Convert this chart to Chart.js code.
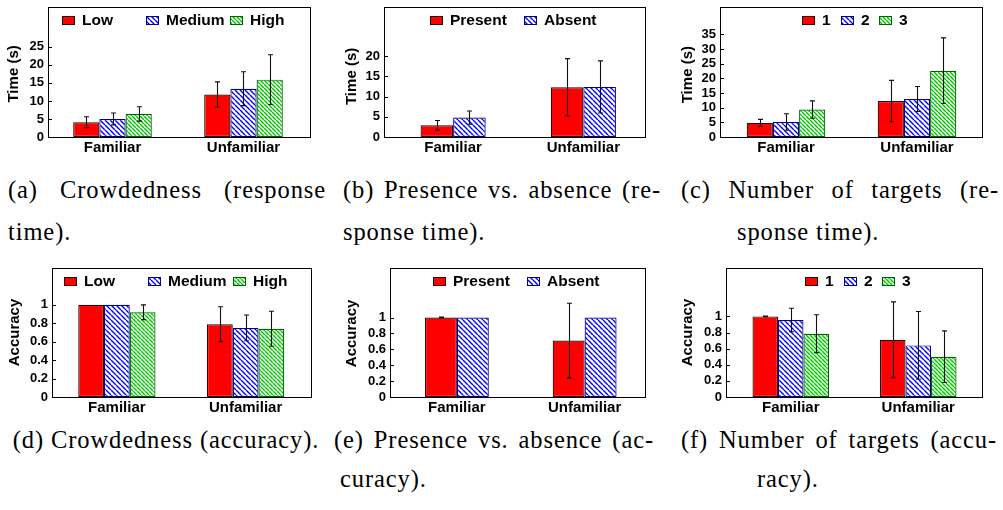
<!DOCTYPE html>
<html>
<head>
<meta charset="utf-8">
<script src="https://cdn.jsdelivr.net/npm/chart.js@4.4.0/dist/chart.umd.min.js"></script>
<style>
  body { margin: 0; background: #fff; }
  #page { position: relative; width: 1003px; height: 510px; overflow: hidden; }
  canvas { position: absolute; }
  .cap { position: absolute; font-family: "Liberation Serif", "Times New Roman", serif; font-size: 24.5px; line-height: 24px; letter-spacing: 0.9px; color: #000; }
  .just { text-align: justify; text-align-last: justify; }
  .one { white-space: nowrap; }
</style>
</head>
<body>
<div id="page">
  <div class="cap just" style="left:8px;top:178px;width:318px">(a) Crowdedness (response</div>
  <div class="cap one" style="left:8px;top:220px">time).</div>
  <div class="cap just" style="left:343px;top:178px;width:318px">(b) Presence vs. absence (re-</div>
  <div class="cap one" style="left:343px;top:220px">sponse time).</div>
  <div class="cap just" style="left:681px;top:178px;width:318px">(c) Number of targets (re-</div>
  <div class="cap one" style="left:737px;top:220px">sponse time).</div>
  <div class="cap one" style="left:10px;top:428px;width:312px;text-align:center">(d) Crowdedness (accuracy).</div>
  <div class="cap just" style="left:334px;top:428px;width:320px">(e) Presence vs. absence (ac-</div>
  <div class="cap one" style="left:340px;top:467px">curacy).</div>
  <div class="cap just" style="left:681px;top:428px;width:316px">(f) Number of targets (accu-</div>
  <div class="cap one" style="left:757px;top:467px">racy).</div>
</div>
<script>
const categories = ["Familiar", "Unfamiliar"];
const crowdLabels = ["Low", "Medium", "High"];
const presenceLabels = ["Present", "Absent"];
const targetLabels = ["1", "2", "3"];

// response time (s); one row per series, [Familiar, Unfamiliar]
const crowdTime = [[4.1, 11.8], [5.0, 13.4], [6.4, 15.9]];
const crowdTimeErr = [[1.5, 3.5], [1.65, 4.7], [2.0, 6.9]];
const presenceTime = [[2.9, 12.3], [4.8, 12.4]];
const presenceTimeErr = [[1.2, 7.1], [1.65, 6.45]];
const targetTime = [[4.8, 12.25], [5.1, 12.95], [9.35, 22.6]];
const targetTimeErr = [[1.2, 7.05], [2.8, 4.25], [2.95, 11.2]];

// accuracy
const crowdAcc = [[1.0, 0.79], [1.0, 0.75], [0.92, 0.74]];
const crowdAccErr = [[0, 0.19], [0, 0.14], [0.08, 0.19]];
const presenceAcc = [[1.0, 0.71], [1.0, 1.0]];
const presenceAccErr = [[0.005, 0.47], [0, 0]];
const targetAcc = [[1.0, 0.71], [0.955, 0.64], [0.785, 0.5]];
const targetAccErr = [[0.005, 0.47], [0.145, 0.42], [0.235, 0.32]];

// tick labels
const timeTicksA = [0, 5, 10, 15, 20, 25];
const timeTicksB = [0, 5, 10, 15, 20];
const timeTicksC = [0, 5, 10, 15, 20, 25, 30, 35];
const accTicks = [0, 0.2, 0.4, 0.6, 0.8, 1];

const sans = "'Liberation Sans', Arial, sans-serif";
Chart.defaults.font.family = sans;

// diagonal "\\\" hatch on white
function hatch(ctx, color, size, width) {
  const tile = document.createElement("canvas");
  tile.width = size;
  tile.height = size;
  const g = tile.getContext("2d");
  g.fillStyle = "#fff";
  g.fillRect(0, 0, size, size);
  g.strokeStyle = color;
  g.lineWidth = width;
  g.beginPath();
  for (const k of [-size, 0, size]) {
    g.moveTo(k, 0);
    g.lineTo(k + size, size);
  }
  g.stroke();
  return ctx.createPattern(tile, "repeat");
}

const styles = [
  { fill: (ctx) => "#ff0000", border: "#2a0000" },
  { fill: (ctx) => hatch(ctx, "#0000ff", 5, 1.4), border: "#000080" },
  { fill: (ctx) => hatch(ctx, "#00cc00", 4, 1.5), border: "#006400" },
];

const errorPlugin = {
  id: "errbars",
  afterDatasetsDraw(chart) {
    const g = chart.ctx;
    const y = chart.scales.y;
    g.save();
    g.strokeStyle = "#111";
    g.lineWidth = 1.1;
    chart.data.datasets.forEach((ds, i) => {
      chart.getDatasetMeta(i).data.forEach((bar, j) => {
        const e = ds.err[j];
        if (!e) return;
        const x = Math.round(bar.x) + 0.5;
        const hi = y.getPixelForValue(ds.data[j] + e);
        const lo = y.getPixelForValue(ds.data[j] - e);
        g.beginPath();
        g.moveTo(x, hi); g.lineTo(x, lo);
        g.moveTo(x - 2.5, hi); g.lineTo(x + 2.5, hi);
        g.moveTo(x - 2.5, lo); g.lineTo(x + 2.5, lo);
        g.stroke();
      });
    });
    g.restore();
  },
};

const framePlugin = {
  id: "frame",
  afterDraw(chart, args, opts) {
    const f = opts.rect;
    const g = chart.ctx;
    const y = chart.scales.y;
    g.save();
    g.strokeStyle = "#000";
    g.lineWidth = 1;
    g.strokeRect(Math.round(f.l) + 0.5, Math.round(f.t) + 0.5, Math.round(f.r - f.l), Math.round(f.b - f.t));
    g.beginPath();
    y.ticks.forEach((t) => {
      const py = Math.round(y.getPixelForValue(t.value)) + 0.5;
      g.moveTo(f.l, py);
      g.lineTo(f.l + 4, py);
    });
    g.stroke();
    g.restore();
  },
};

// gnuplot-like key inside the top of the frame
const keyPlugin = {
  id: "key",
  afterDraw(chart, args, opts) {
    const f = opts.rect;
    const g = chart.ctx;
    const sets = chart.data.datasets;
    const chars = Math.max(...sets.map((d) => d.label.length));
    const colW = 29.2 + 9.14 * chars;
    const x0 = (f.l + f.r) / 2 - (sets.length * colW) / 2;
    g.save();
    g.font = "bold 15.5px " + sans;
    g.textBaseline = "middle";
    sets.forEach((d, i) => {
      const sx = Math.round(x0 + i * colW + 9);
      const sy = Math.round(f.t + 9);
      g.fillStyle = d.backgroundColor;
      g.fillRect(sx, sy, 13, 8);
      g.strokeStyle = d.borderColor;
      g.lineWidth = 1;
      g.strokeRect(sx + 0.5, sy + 0.5, 12, 8);
      g.fillStyle = "#000";
      g.fillText(d.label, sx + 20, f.t + 13.5);
    });
    g.restore();
  },
};

const panels = [
  { series: crowdLabels, values: crowdTime, errs: crowdTimeErr, ticks: timeTicksA, max: 35, title: "Time (s)", group: 0.6,
    left: 0, top: 0, h: 160, area: { l: 47, r: 309, t: 7, b: 137 }, frame: { l: 48, r: 310, t: 7, b: 137 } },
  { series: presenceLabels, values: presenceTime, errs: presenceTimeErr, ticks: timeTicksB, max: 30, title: "Time (s)", group: 0.5,
    left: 338, top: 0, h: 160, area: { l: 388, r: 648.5, t: 7, b: 137 }, frame: { l: 384, r: 645, t: 7, b: 137 } },
  { series: targetLabels, values: targetTime, errs: targetTimeErr, ticks: timeTicksC, max: 42.5, title: "Time (s)", group: 0.6,
    left: 674, top: 0, h: 160, area: { l: 720.5, r: 982.5, t: 7, b: 137 }, frame: { l: 720, r: 982, t: 7, b: 137 } },
  { series: crowdLabels, values: crowdAcc, errs: crowdAccErr, ticks: accTicks, max: 1.4, title: "Accuracy", group: 0.6,
    left: 1, top: 255, h: 165, area: { l: 52.5, r: 310, t: 268, b: 397 }, frame: { l: 52, r: 311, t: 268, b: 397 } },
  { series: presenceLabels, values: presenceAcc, errs: presenceAccErr, ticks: accTicks, max: 1.6, title: "Accuracy", group: 0.5,
    left: 338, top: 255, h: 165, area: { l: 393, r: 648.5, t: 268, b: 397 }, frame: { l: 390, r: 645, t: 268, b: 397 } },
  { series: targetLabels, values: targetAcc, errs: targetAccErr, ticks: accTicks, max: 1.6, title: "Accuracy", group: 0.6,
    left: 674, top: 255, h: 165, area: { l: 727, r: 982, t: 268, b: 397 }, frame: { l: 726, r: 982, t: 268, b: 397 } },
];

function makeChart(p) {
  const cv = document.createElement("canvas");
  const W = Math.ceil(Math.max(p.area.r, p.frame.r) + 3 - p.left);
  cv.width = W;
  cv.height = p.h;
  cv.style.left = p.left + "px";
  cv.style.top = p.top + "px";
  document.getElementById("page").appendChild(cv);
  const ctx = cv.getContext("2d");

  const local = (r) => ({ l: r.l - p.left, r: r.r - p.left, t: r.t - p.top, b: r.b - p.top });
  const frame = local(p.frame);
  const area = local(p.area);

  new Chart(ctx, {
    type: "bar",
    data: {
      labels: categories,
      datasets: p.series.map((name, i) => ({
        label: name,
        data: p.values[i],
        err: p.errs[i],
        backgroundColor: styles[i].fill(ctx),
        borderColor: styles[i].border,
        borderWidth: 1.2,
        borderSkipped: false,
        barPercentage: 1,
        categoryPercentage: p.group,
      })),
    },
    options: {
      responsive: false,
      animation: false,
      layout: { padding: { left: 0, top: area.t, right: W - area.r, bottom: 0 } },
      plugins: {
        legend: { display: false },
        tooltip: { enabled: false },
        frame: { rect: frame },
        key: { rect: frame },
      },
      scales: {
        x: {
          grid: { display: false, drawTicks: false },
          border: { display: false },
          ticks: { font: { size: 15, weight: "bold" }, color: "#000", padding: 2, autoSkip: false, maxRotation: 0 },
          afterFit: (s) => { s.height = p.h - area.b; },
        },
        y: {
          min: 0,
          max: p.max,
          grid: { display: false, drawTicks: false },
          border: { display: false },
          ticks: {
            font: { size: 13, weight: "bold" },
            color: "#000",
            padding: area.l - frame.l + 4,
            autoSkip: false,
            callback: (v) => String(v),
          },
          afterBuildTicks: (s) => { s.ticks = p.ticks.map((v) => ({ value: v })); },
          afterFit: (s) => { s.width = area.l; },
          title: {
            display: true,
            text: p.title,
            color: "#000",
            font: { size: 15, weight: "bold" },
            padding: { top: 5, bottom: 0 },
          },
        },
      },
    },
    plugins: [errorPlugin, framePlugin, keyPlugin],
  });
}

panels.forEach(makeChart);
</script>
</body>
</html>
